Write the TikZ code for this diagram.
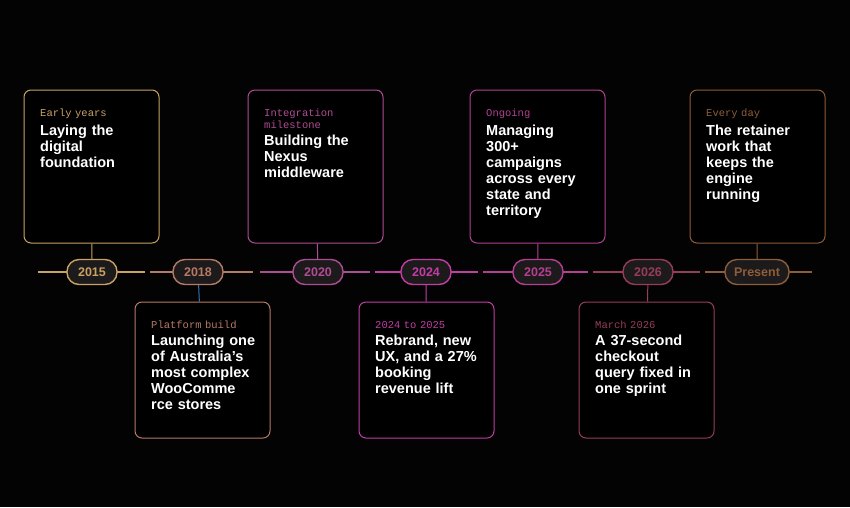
\documentclass[tikz,border=0pt]{standalone}
\usepackage{fontspec}
\setmainfont{Liberation Sans}
\newfontfamily\labelfont{Liberation Mono}
\usetikzlibrary{positioning}
\definecolor{bgdark}{HTML}{030303}
\definecolor{cgold}{HTML}{C9A264}
\definecolor{crose}{HTML}{B77A66}
\definecolor{cmauve}{HTML}{B04C94}
\definecolor{cmagenta}{HTML}{C23DA6}
\definecolor{cberry}{HTML}{B53F93}
\definecolor{cwine}{HTML}{963D5A}
\definecolor{cbronze}{HTML}{8E5D3A}
\definecolor{cblue}{HTML}{3474B8}
\definecolor{pillfill}{HTML}{1C1A1A}
\tikzset{
  card/.style={draw=#1, line width=1pt, rounded corners=7pt, fill=black, minimum width=135pt, minimum height=153pt},
  bcard/.style={card=#1, minimum height=136pt},
  pill/.style={draw=#1, line width=1.4pt, rounded corners=12pt, fill=pillfill, minimum width=50pt, minimum height=25pt, text=#1, font=\bfseries\fontsize{12.5}{12.5}\selectfont},
  tag/.style={text=#1, font=\labelfont\fontsize{10.5}{12}\selectfont, align=left, text width=120pt, inner sep=0pt},
  headline/.style={text=white, font=\bfseries\fontsize{14.5}{16}\selectfont, align=left, text width=120pt, inner sep=0pt}
}
\begin{document}
\begin{tikzpicture}[x=1pt, y=-1pt]
  \fill[bgdark] (0,0) rectangle (850,507);
  \useasboundingbox (0,0) rectangle (850,507);

  % timeline segments
  \foreach \xa/\xb/\col in {38/145/cgold, 150/253/crose, 260/370/cmauve, 375/478/cmagenta, 483/588/cberry, 593/700/cwine, 705/812/cbronze}
    \draw[\col, line width=1.4pt] (\xa,272) -- (\xb,272);

  % year pills
  \node[pill=cgold] (p2015) at (92,272) {2015};
  \node[pill=crose] (p2018) at (198,272) {2018};
  \node[pill=cmauve] (p2020) at (318,272) {2020};
  \node[pill=cmagenta] (p2024) at (426,272) {2024};
  \node[pill=cberry] (p2025) at (538,272) {2025};
  \node[pill=cwine] (p2026) at (648,272) {2026};
  \node[pill=cbronze, minimum width=64pt] (pnow) at (757,272) {Present};

  % upper cards
  \node[card=cgold] (c2015) at (91.5,166.5) {};
  \node[card=cmauve] (c2020) at (315.5,166.5) {};
  \node[card=cberry] (c2025) at (537.5,166.5) {};
  \node[card=cbronze] (cnow) at (757.5,166.5) {};

  % lower cards
  \node[bcard=crose] (c2018) at (202.5,370) {};
  \node[bcard=cmagenta] (c2024) at (426.5,370) {};
  \node[bcard=cwine] (c2026) at (646.5,370) {};

  % stems
  \draw[cgold, line width=1pt] (c2015) -- (p2015);
  \draw[cmauve, line width=1pt] (c2020) -- (p2020);
  \draw[cberry, line width=1pt] (c2025) -- (p2025);
  \draw[cbronze, line width=1pt] (cnow) -- (pnow);
  \draw[cblue, line width=1pt] (p2018) -- (c2018);
  \draw[cmagenta, line width=1pt] (p2024) -- (c2024);
  \draw[cwine, line width=1pt] (p2026) -- (c2026);

  % card texts
  \node[tag=cgold, anchor=north west] (t2015) at (40,109) {Early years};
  \node[headline, below=6pt of t2015.south west, anchor=north west] {Laying the\\digital\\foundation};
  \node[tag=cmauve, anchor=north west] (t2020) at (264,109) {Integration\\milestone};
  \node[headline, below=6pt of t2020.south west, anchor=north west] {Building the\\Nexus\\middleware};
  \node[tag=cberry, anchor=north west] (t2025) at (486,109) {Ongoing};
  \node[headline, below=6pt of t2025.south west, anchor=north west] {Managing\\300+\\campaigns\\across every\\state and\\territory};
  \node[tag=cbronze, anchor=north west] (tnow) at (706,109) {Every day};
  \node[headline, below=6pt of tnow.south west, anchor=north west] {The retainer\\work that\\keeps the\\engine\\running};
  \node[tag=crose, anchor=north west] (t2018) at (151,321) {Platform build};
  \node[headline, below=6pt of t2018.south west, anchor=north west] {Launching one\\of Australia's\\most complex\\WooComme\\rce stores};
  \node[tag=cmagenta, anchor=north west] (t2024) at (375,321) {2024 to 2025};
  \node[headline, below=6pt of t2024.south west, anchor=north west] {Rebrand, new\\UX, and a 27\%\\booking\\revenue lift};
  \node[tag=cwine, anchor=north west] (t2026) at (595,321) {March 2026};
  \node[headline, below=6pt of t2026.south west, anchor=north west] {A 37-second\\checkout\\query fixed in\\one sprint};
\end{tikzpicture}
\end{document}
